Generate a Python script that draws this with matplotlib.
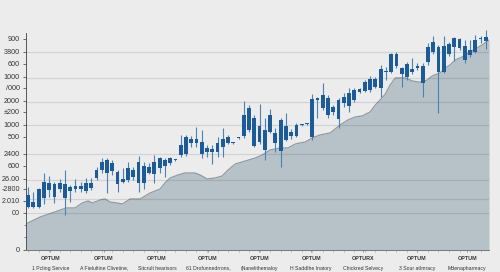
import matplotlib
matplotlib.use('Agg')
import matplotlib.pyplot as plt
from matplotlib.ticker import FixedLocator, MultipleLocator

plt.rcParams['font.family'] = ['Liberation Sans', 'DejaVu Sans']

# candle data (one candle per session)
body_low = [43, 43, 43, 52, 60, 53, 61, 52, 59, 61, 61, 59, 62, 72, 80, 77, 79, 66, 68, 70, 73, 67, 67, 77, 76, 82,
            84, 87, 89.5, 95, 96, 107, 107, 96, 98, 98, 98, 103, 107, 106.5, 111.5, 114, 120, 104, 108, 100, 118, 107,
            99, 110, 114, 114, 124.5, 125.5, 113, 150, 142, 135,
            138, 131, 147, 144, 150, 158, 159, 160, 163, 162, 177.5, 178, 184, 176, 173, 178, 182, 167, 188, 198,
            178, 178, 196, 203, 202, 190, 195, 198, 210.5, 209]
body_high = [55, 48, 61, 68, 67, 66, 67, 66, 63, 64, 64, 67, 67, 80, 88, 90, 87, 78, 71, 82, 80, 88, 84, 83, 88, 92,
             90, 92, 90.5, 105, 113, 111, 111, 108, 102, 101, 107, 111, 113, 107.5, 112.5, 135, 142, 132, 124, 120, 135,
             117, 130, 124, 118, 125, 125.5, 126.5, 151, 152, 155, 152,
             143, 150, 153, 157, 160, 161, 168, 171, 171, 181, 178.5, 196, 196, 182, 186, 181, 184, 184, 203, 208,
             203, 204, 206, 212, 211, 204, 200, 210, 211.5, 213]
high = [63, 58, 62, 77, 74, 68, 71, 80, 65, 71, 68, 72, 72, 83, 92, 92, 90, 80, 82, 88, 83, 94, 88, 87, 95, 93,
        92, 93, 91, 115, 115, 114, 123, 120, 105, 105, 113, 122, 115, 108, 113, 149, 145, 135, 146, 132, 141, 122,
        132, 137, 121, 127, 126, 127, 156, 153, 167, 155,
        145, 152, 157, 162, 162, 162, 170, 174, 173, 185, 183, 197, 198, 183, 188, 192, 187, 187, 207, 214,
        205, 214, 208, 213, 212, 210, 210, 215, 214, 220]
low = [42, 42, 42, 46, 53, 47, 58, 35, 48, 58, 58, 57, 60, 70, 77, 57, 75, 58, 67, 68, 70, 58, 61, 76, 67, 77,
       73, 85, 89, 93, 94, 103, 103, 92, 93, 86, 93, 93, 106, 106, 111, 112, 118, 103, 106, 90, 117, 98, 83, 109,
       111, 113, 124, 125, 110, 132, 140, 132,
       135, 122, 143, 138, 148, 157, 158, 158, 162, 153, 170, 177, 182, 163, 170, 176, 180, 153, 185, 196,
       137, 177, 194, 189, 200, 187, 193, 197, 207, 201]

# background area series
area_x = [-0.4, 2.3, 5.1, 7.2, 8.9, 10.3, 11.4, 12.2, 13.7, 14.6, 15.6, 16.9, 17.9, 19.4, 21.3, 23.2, 25.1, 26.0,
          27.0, 28.5, 29.8, 31.7, 32.7, 34.0, 35.6, 36.9, 38.0, 39.4, 41.3, 43.2, 44.5, 46.0, 47.9, 49.4, 50.8,
          52.7, 54.0, 55.5, 57.4, 59.3, 60.8, 62.2, 63.5, 65.0, 66.0, 66.9, 67.9, 68.8, 69.8, 70.7, 71.7, 73.0,
          74.1, 74.9, 75.9, 76.8, 78.3, 79.3, 80.2, 81.2, 82.5, 83.7, 85.0, 86.3, 87.6]
area_y = [26, 33, 38, 42, 42, 47, 49, 47, 50, 51, 48, 47, 46, 51, 51, 57, 61, 67,
          72, 75, 77, 77, 75, 71, 72, 74, 80, 86, 89, 92, 95, 100, 102, 102, 106,
          108, 112, 115, 117, 125, 130, 133, 134, 138, 145, 150, 156, 165, 172, 172, 172, 169,
          168, 168, 170, 174, 177, 182, 185, 190, 193, 197, 201, 205, 210]

y_ticks = [0, 37, 49, 61, 71, 84, 96, 113, 125, 138, 149, 162, 173, 186, 198, 211]
y_labels = ['0', '00', '2.010', '-2800', '26.00', '600', '2400', '500', '1000', '±200', '2000', '/000',
            '1000', '600', '3800', '900']
grid_levels = [37, 51, 70, 96, 125, 148, 172, 198]

x_ticks = [4.2, 14.4, 24.5, 34.2, 43.9, 53.8, 63.7, 73.9, 83.5]
x_top = ['OPTUM', 'OPTUM', 'OPTUM', 'OPTUM', 'OPTUM', 'OPTUM', 'OPTURX', 'OPTUM', 'OPTUM']
x_bottom = ['1 Pcling Service', 'A Fielultine Clivetine,', 'Sitcrult hearisors', '61 Drofunnedrrons,',
            '(Nanelithemaloy', 'H Saddlhe Inatory', 'Chickred Selvecy', '3 Sour atImracy', 'Mdenapharmacy']

bg = '#ececec'
fig = plt.figure(figsize=(5, 2.72), dpi=100, facecolor=bg)
ax = fig.add_axes([0.052, 0.081, 0.926, 0.798], facecolor=bg)

ax.fill_between(area_x, area_y, 0, color='#b6c2c7', zorder=1, linewidth=0)
ax.plot(area_x, area_y, color='#8f9ba1', lw=0.9, zorder=2)

for g in grid_levels:
    ax.axhline(g, color='black', alpha=0.1, lw=0.9, zorder=3)

xs = list(range(len(body_low)))
ax.vlines(xs, low, high, color='#4a82b6', lw=0.8, zorder=4, clip_on=False)
heights = [max(h - l, 1.0) for l, h in zip(body_low, body_high)]
ax.bar(xs, heights, bottom=body_low, width=0.72, color='#1c5b98', zorder=5, linewidth=0)

ax.set_xlim(-0.4, 87.6)
ax.set_ylim(0, 217)

ax.yaxis.set_major_locator(FixedLocator(y_ticks))
ax.set_yticklabels(y_labels, fontsize=5.2, color='#333333')
ax.yaxis.set_minor_locator(FixedLocator([13, 25]))
ax.tick_params(axis='y', which='major', length=2, width=0.6, pad=2.5, color='#555555')
ax.tick_params(axis='y', which='minor', length=1.5, width=0.5, color='#555555')

ax.xaxis.set_major_locator(FixedLocator(x_ticks))
ax.set_xticklabels(x_top, fontsize=3.9, fontweight='bold', color='#333333')
ax.xaxis.set_minor_locator(MultipleLocator(2))
ax.tick_params(axis='x', which='major', length=1.5, width=0.5, pad=2.5, color='#777777')
ax.tick_params(axis='x', which='minor', length=1.2, width=0.4, color='#999999')

for xt, lab in zip(x_ticks, x_bottom):
    ax.annotate(lab, xy=(xt, 0), xycoords=('data', 'axes fraction'), xytext=(0, -13),
                textcoords='offset points', ha='center', va='center', fontsize=3.7, color='#333333')

for s in ['top', 'right']:
    ax.spines[s].set_visible(False)
ax.spines['left'].set_color('#555555')
ax.spines['left'].set_linewidth(0.7)
ax.spines['bottom'].set_color('#777777')
ax.spines['bottom'].set_linewidth(0.7)

fig.savefig('out.png', dpi=100, facecolor=bg)
